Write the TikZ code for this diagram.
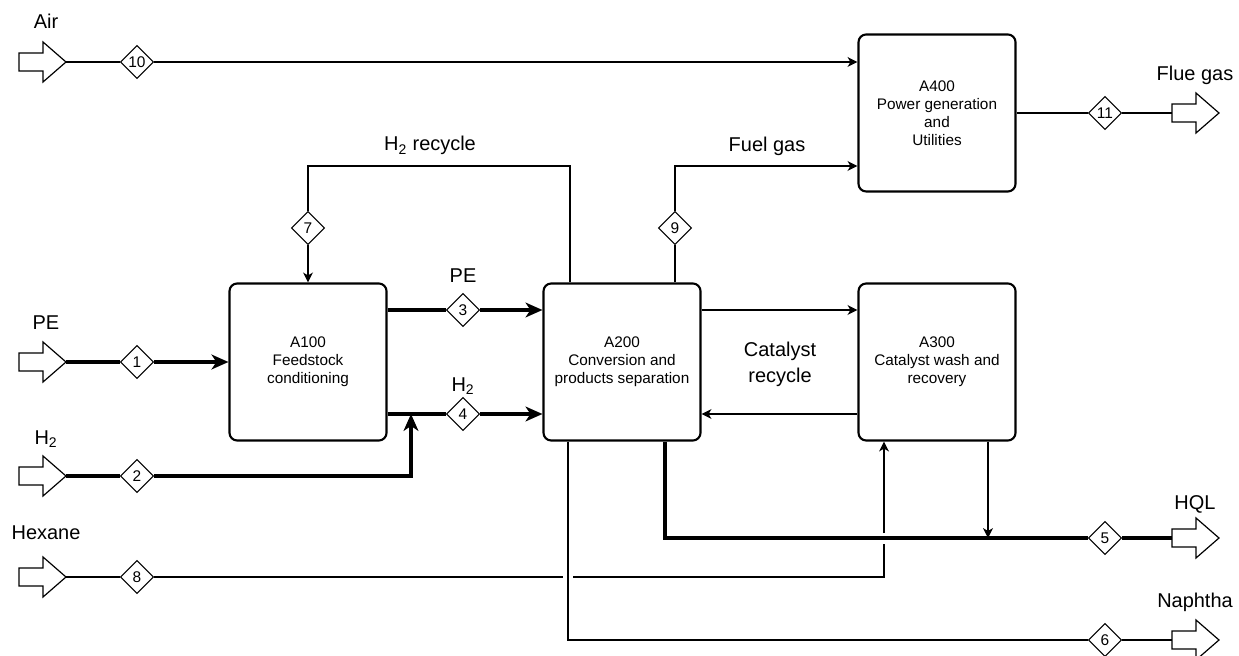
\documentclass[tikz,border=0pt]{standalone}
\usepackage{fontspec}
\setmainfont{Liberation Sans}
\usetikzlibrary{arrows.meta,shapes.geometric}

\begin{document}
\begin{tikzpicture}[x=0.025cm,y=-0.025cm]
\tikzset{
  unitbox/.style={rectangle,rounded corners=5.5pt,draw=black,line width=1.5pt,minimum width=3.925cm,minimum height=3.925cm,align=center,font=\fontsize{10.9}{12.8}\selectfont},
  streamtag/.style={diamond,draw=black,line width=0.8pt,fill=white,minimum width=0.83cm,minimum height=0.83cm,inner sep=0pt,font=\fontsize{11}{12.8}\selectfont},
  flowlabel/.style={font=\fontsize{14.2}{18.5}\selectfont,align=center,inner sep=0pt},
  thinflow/.style={draw=black,line width=0.85pt},
  thickflow/.style={draw=black,line width=2.2pt},
  thinarrow/.style={thinflow,-{Stealth[length=7pt,width=7pt,inset=2pt]}},
  thickarrow/.style={thickflow,-{Stealth[length=12pt,width=10.5pt,inset=3.5pt]}},
  blockarrow/.pic={
    \draw[line width=0.85pt,line join=miter] (0,-9) -- (24,-9) -- (24,-20) -- (47,0) -- (24,20) -- (24,9) -- (0,9) -- cycle;
    \coordinate (-tail) at (0,0);
    \coordinate (-tip) at (47,0);
  }
}
\useasboundingbox (0,0) rectangle (1239,656);
% process units
\node[unitbox] (n_A100) at (308,362) {A100\\Feedstock\\conditioning};
\node[unitbox] (n_A200) at (622,362) {A200\\Conversion and\\products separation};
\node[unitbox] (n_A300) at (937,362) {A300\\Catalyst wash and\\recovery};
\node[unitbox] (n_A400) at (937,113) {A400\\Power generation\\and\\Utilities};
% feeds and products
\pic (p_air) at (19,62) {blockarrow};
\pic (p_pe) at (19,362) {blockarrow};
\pic (p_h2) at (19,476) {blockarrow};
\pic (p_hex) at (19,577) {blockarrow};
\pic (p_flue) at (1172,113) {blockarrow};
\pic (p_hql) at (1172,538) {blockarrow};
\pic (p_nap) at (1172,640) {blockarrow};
% stream numbers
\node[streamtag] (n_s1) at (137,362) {1};
\node[streamtag] (n_s2) at (137,476) {2};
\node[streamtag] (n_s3) at (463,310) {3};
\node[streamtag] (n_s4) at (463,414) {4};
\node[streamtag] (n_s5) at (1105,538) {5};
\node[streamtag] (n_s6) at (1105,640) {6};
\node[streamtag] (n_s7) at (308,228) {7};
\node[streamtag] (n_s8) at (137,577) {8};
\node[streamtag] (n_s9) at (675,228) {9};
\node[streamtag] (n_s10) at (137,62) {10};
\node[streamtag] (n_s11) at (1105,113) {11};
% bends
\coordinate (c_rcy) at (570,166);
\coordinate (c_fuel) at (675,166);
\coordinate (c_h2) at (411,414);
\coordinate (c_hql) at (665,538);
\coordinate (c_wash) at (988,538);
\coordinate (c_nap) at (568,640);
\coordinate (c_hex) at (884,577);
\coordinate (c_jmpl) at (563,577);
\coordinate (c_jmpr) at (573,577);
\coordinate (c_jmpd) at (884,544);
\coordinate (c_jmpu) at (884,533);
% labels
\node[flowlabel,anchor=base] (l_air) at (46,29) {Air};
\node[flowlabel,anchor=base] (l_pe) at (46,330) {PE};
\node[flowlabel,anchor=base] (l_h2) at (46,444) {H\textsubscript{2}};
\node[flowlabel,anchor=base] (l_hex) at (46,539) {Hexane};
\node[flowlabel,anchor=base] (l_pe3) at (463,283) {PE};
\node[flowlabel,anchor=base] (l_h24) at (463,391) {H\textsubscript{2}};
\node[flowlabel,anchor=base] (l_rcy) at (430,151) {H\textsubscript{2} recycle};
\node[flowlabel,anchor=base] (l_fuel) at (767,152) {Fuel gas};
\node[flowlabel,anchor=base] (l_flue) at (1195,81) {Flue gas};
\node[flowlabel,anchor=base] (l_hql) at (1195,509) {HQL};
\node[flowlabel,anchor=base] (l_nap) at (1195,607) {Naphtha};
\node[flowlabel] (l_cat) at (780,364) {Catalyst\\recycle};
% streams
\draw[thinarrow] (p_air-tip) -- (n_s10) -- (n_s10 -| n_A400.west);
\draw[thinflow] (n_A400.east) -- (n_s11) -- (p_flue-tail);
\draw[thickarrow] (p_pe-tip) -- (n_s1) -- (n_A100.west);
\draw[thickarrow] (p_h2-tip) -- (n_s2) -| (c_h2);
\draw[thickarrow] (n_A100.east |- n_s3) -- (n_s3) -- (n_s3 -| n_A200.west);
\draw[thickarrow] (n_A100.east |- n_s4) -- (n_s4) -- (n_s4 -| n_A200.west);
\draw[thinarrow] (n_A200.north -| c_rcy) -- (c_rcy) -| (n_s7) -- (n_A100.north);
\draw[thinarrow] (n_A200.north -| c_fuel) -- (n_s9) |- (n_A400.west |- c_fuel);
\draw[thinarrow] (n_A200.east |- n_s3) -- (n_A300.west |- n_s3);
\draw[thinarrow] (n_A300.west |- n_s4) -- (n_A200.east |- n_s4);
\draw[thickflow] (n_A200.south -| c_hql) -- (c_hql) -- (n_s5) -- (p_hql-tail);
\draw[thinarrow] (c_wash |- n_A300.south) -- (c_wash);
\draw[thinflow] (n_A200.south -| c_nap) -- (c_nap) -- (n_s6) -- (p_nap-tail);
\draw[thinflow] (p_hex-tip) -- (n_s8) -- (c_jmpl);
\draw[thinflow] (c_jmpr) -- (c_hex) -- (c_jmpd);
\draw[thinarrow] (c_jmpu) -- (c_jmpu |- n_A300.south);
\end{tikzpicture}
\end{document}
